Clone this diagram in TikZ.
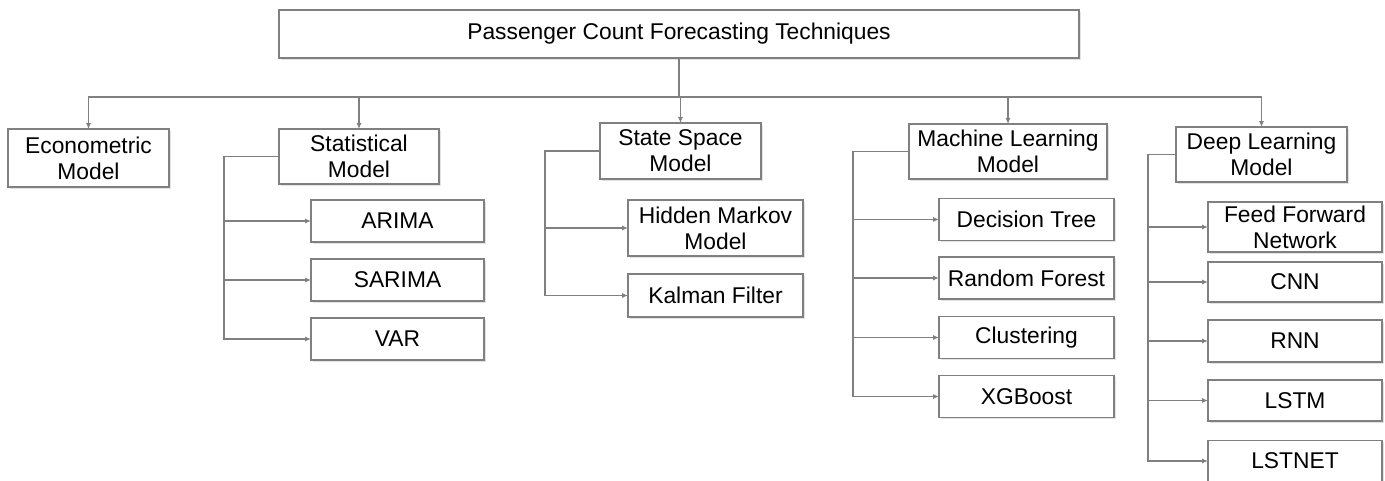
\documentclass[tikz,border=0pt]{standalone}
\usepackage{fontspec}
\setmainfont{Liberation Sans}
\usepackage{tikz}
\usetikzlibrary{arrows.meta,shadows}

\definecolor{linegray}{RGB}{128,128,128}

\begin{document}
\begin{tikzpicture}[x=0.5pt,y=-0.5pt,
    font=\fontsize{11.4}{13}\selectfont,
    box/.style={draw=linegray,line width=0.9pt,fill=white,inner sep=0pt,outer sep=0pt,
      align=center,drop shadow={shadow xshift=0.8pt,shadow yshift=-0.8pt,fill=black!22}},
    link/.style={draw=linegray,line width=0.9pt},
    arr/.style={link,-{Latex[length=3pt,width=2.6pt]}}]
   \useasboundingbox (0,0) rectangle (1385,481);

   % root
   \node[box,minimum width=400pt,minimum height=24pt] (root) at (679,34) {Passenger Count Forecasting Techniques};

   % main groups
   \node[box,minimum width=80.5pt,minimum height=29pt] (econ) at (88.5,158) {Econometric\\Model};
   \node[box,minimum width=80pt,minimum height=27.5pt] (stat) at (359,156.5) {Statistical\\Model};
   \node[box,minimum width=80.5pt,minimum height=28pt] (state) at (680.5,151) {State Space\\Model};
   \node[box,minimum width=99pt,minimum height=27.5pt] (ml) at (1008,151.5) {Machine Learning\\Model};
   \node[box,minimum width=85.5pt,minimum height=27.5pt] (dl) at (1261.5,154.5) {Deep Learning\\Model};

   \coordinate (bus) at (679,97);
   \draw[link] (root.south) -- (bus);
   \foreach \g in {econ,stat,state,ml,dl}
     \draw[arr] (bus) -| (\g.north);

   % statistical
   \node[box,minimum width=86.5pt,minimum height=21pt] (arima) at (397.5,221) {ARIMA};
   \node[box,minimum width=86.5pt,minimum height=21pt] (sarima) at (397.5,280) {SARIMA};
   \node[box,minimum width=86.5pt,minimum height=21pt] (var) at (397.5,339) {VAR};
   \foreach \c in {arima,sarima,var}
     \draw[arr] (stat.west) -- ++(-55,0) |- (\c.west);

   % state space
   \node[box,minimum width=87.5pt,minimum height=28pt] (hmm) at (715.5,228) {Hidden Markov\\Model};
   \node[box,minimum width=87.5pt,minimum height=21.5pt] (kalman) at (715.5,295.5) {Kalman Filter};
   \foreach \c in {hmm,kalman}
     \draw[arr] (state.west) -- ++(-55,0) |- (\c.west);

   % machine learning
   \node[box,minimum width=87.5pt,minimum height=21pt] (dtree) at (1026.5,219.5) {Decision Tree};
   \node[box,minimum width=87.5pt,minimum height=21pt] (rforest) at (1026.5,278) {Random Forest};
   \node[box,minimum width=87.5pt,minimum height=21pt] (clust) at (1026.5,337.5) {Clustering};
   \node[box,minimum width=87.5pt,minimum height=21pt] (xgb) at (1026.5,396.5) {XGBoost};
   \foreach \c in {dtree,rforest,clust,xgb}
     \draw[arr] (ml.west) -- ++(-56,0) |- (\c.west);

   % deep learning
   \node[box,minimum width=87pt,minimum height=25pt] (ffn) at (1295,227) {Feed Forward\\Network};
   \node[box,minimum width=87pt,minimum height=20pt] (cnn) at (1295,282) {CNN};
   \node[box,minimum width=87pt,minimum height=21pt] (rnn) at (1295,341) {RNN};
   \node[box,minimum width=87pt,minimum height=20.5pt] (lstm) at (1295,400.5) {LSTM};
   \node[box,minimum width=87pt,minimum height=20.5pt] (lstnet) at (1295,461) {LSTNET};
   \foreach \c in {ffn,cnn,rnn,lstm,lstnet}
     \draw[arr] (dl.west) -- ++(-28,0) |- (\c.west);
\end{tikzpicture}
\end{document}
